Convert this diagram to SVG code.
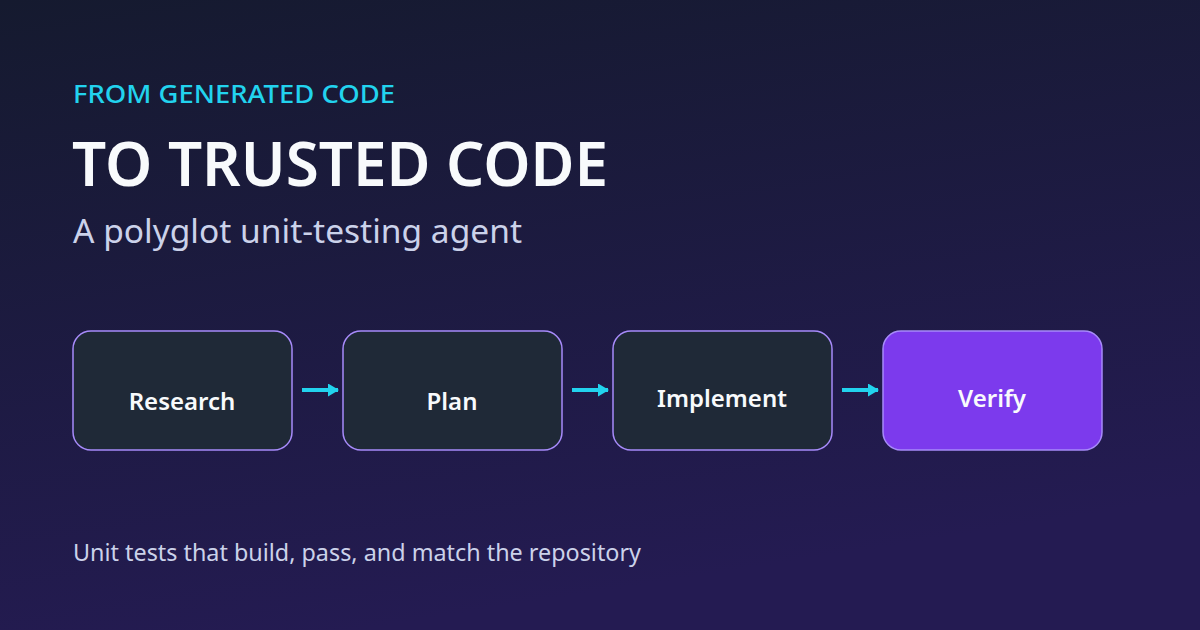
<svg xmlns="http://www.w3.org/2000/svg" width="1200" height="630" viewBox="0 0 1200 630">
<defs>
<linearGradient id="bg" x1="0" y1="0" x2="0.3" y2="1">
<stop offset="0" stop-color="#151a2f"/>
<stop offset="1" stop-color="#241b52"/>
</linearGradient>
<marker id="ah" viewBox="0 0 11 13" refX="10" refY="6.5" markerWidth="11" markerHeight="13" markerUnits="userSpaceOnUse" orient="auto">
<path d="M0,0 L11,6.5 L0,13 Z" fill="#22d3ee"/>
</marker>
</defs>
<style>
.t{font-family:"Noto Sans","Open Sans","DejaVu Sans",sans-serif}
.box{fill:#1f2937;stroke:#a78bfa;stroke-width:1.5}
.boxv{fill:#7c3aed;stroke:#a78bfa;stroke-width:1.5}
.lbl{font-size:24px;font-weight:600;fill:#f8fafc;text-anchor:middle}
.con{stroke:#22d3ee;stroke-width:4;fill:none}
</style>
<rect width="1200" height="630" fill="url(#bg)"/>
<text class="t" x="73" y="103" font-size="25" font-weight="500" fill="#22d3ee" textLength="322" lengthAdjust="spacingAndGlyphs">FROM GENERATED CODE</text>
<text class="t" x="72" y="186" font-size="62" font-weight="600" fill="#f8fafc" textLength="536" lengthAdjust="spacingAndGlyphs">TO TRUSTED CODE</text>
<text class="t" x="73" y="243" font-size="32" fill="#cbd2ea" textLength="449" lengthAdjust="spacingAndGlyphs">A polyglot unit-testing agent</text>
<g id="connectors">
<line class="con" x1="302" y1="390" x2="338" y2="390" marker-end="url(#ah)"/>
<line class="con" x1="572" y1="390" x2="608" y2="390" marker-end="url(#ah)"/>
<line class="con" x1="842" y1="390" x2="878" y2="390" marker-end="url(#ah)"/>
</g>
<g id="research">
<rect class="box" x="73" y="331" width="219" height="119" rx="18"/>
<text class="t lbl" x="182" y="410">Research</text>
</g>
<g id="plan">
<rect class="box" x="343" y="331" width="219" height="119" rx="18"/>
<text class="t lbl" x="452" y="410">Plan</text>
</g>
<g id="implement">
<rect class="box" x="613" y="331" width="219" height="119" rx="18"/>
<text class="t lbl" x="722" y="407">Implement</text>
</g>
<g id="verify">
<rect class="boxv" x="883" y="331" width="219" height="119" rx="18"/>
<text class="t lbl" x="992" y="407">Verify</text>
</g>
<text class="t" x="73" y="561" font-size="23" fill="#cbd2ea" textLength="568" lengthAdjust="spacingAndGlyphs">Unit tests that build, pass, and match the repository</text>
</svg>
